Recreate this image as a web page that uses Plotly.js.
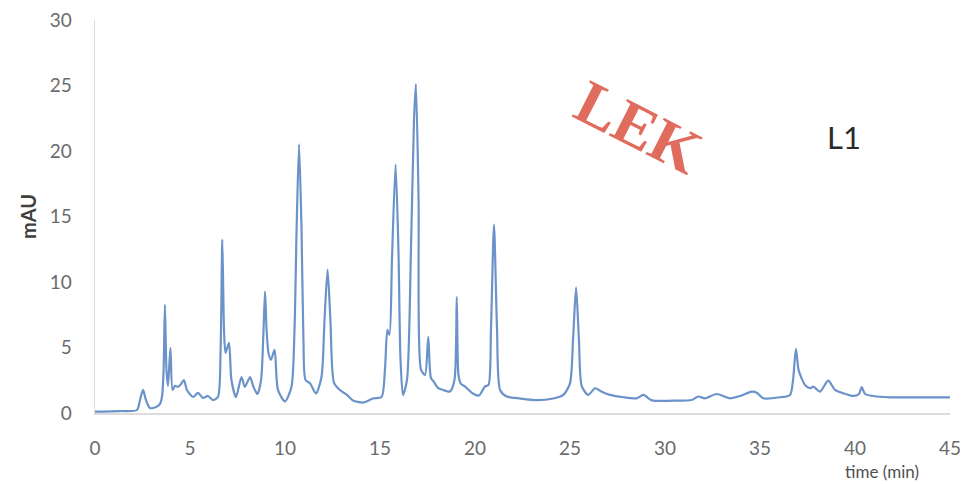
<!DOCTYPE html>
<html>
<head>
<meta charset="utf-8">
<script src="https://cdn.plot.ly/plotly-3.0.1.min.js"></script>
<style>html,body{margin:0;padding:0;background:#fff;}#chart{width:965px;height:484px;}</style>
</head>
<body>
<div id="chart"></div>
<script>
// Chromatogram L1 — retention time (min) vs absorbance (mAU)
const timeMin = [0, 1.32, 2.21, 2.37, 2.53, 2.68, 2.89, 3.21, 3.42, 3.53, 3.61, 3.68, 3.76, 3.84, 3.97, 4.08,
  4.21, 4.37, 4.53, 4.68, 4.84, 5.16, 5.42, 5.68, 5.95, 6.21, 6.47, 6.61, 6.70, 6.79, 6.87, 7.05, 7.18, 7.42,
  7.71, 7.89, 8.16, 8.34, 8.55, 8.74, 8.87, 8.95, 9.03, 9.13, 9.26, 9.45, 9.63, 10.0, 10.34, 10.5, 10.61, 10.74,
  10.87, 10.97, 11.08, 11.32, 11.63, 11.92, 12.08, 12.24, 12.39, 12.58, 12.89, 13.26, 13.58, 14.11, 14.63, 15.08,
  15.26, 15.39, 15.5, 15.63, 15.82, 15.97, 16.08, 16.21, 16.42, 16.63, 16.79, 16.89, 17.03, 17.16, 17.37, 17.54,
  17.68, 17.84, 18.05, 18.32, 18.68, 18.92, 19.04, 19.13, 19.26, 19.47, 19.89, 20.21, 20.53, 20.71, 20.84, 21.0,
  21.16, 21.32, 21.67, 22.37, 23.25, 24.12, 24.65, 25.0, 25.16, 25.32, 25.47, 25.62, 25.96, 26.32, 26.67, 27.11,
  27.81, 28.51, 28.86, 29.32, 30.42, 31.41, 31.75, 32.11, 32.72, 33.42, 33.95, 34.56, 34.83, 35.17, 36.05, 36.58,
  36.74, 36.89, 37.03, 37.19, 37.37, 37.63, 37.81, 38.16, 38.59, 38.95, 39.38, 39.91, 40.21, 40.35, 40.53, 40.96,
  41.84, 43.42, 45.0];
const mAU = [0.11, 0.15, 0.23, 1.0, 1.76, 1.0, 0.38, 0.46, 0.69, 1.3, 3.3, 8.26, 3.3, 2.07, 4.97, 1.76,
  2.07, 1.99, 2.22, 2.52, 1.76, 1.22, 1.53, 1.15, 1.3, 0.99, 1.22, 4.82, 13.24, 6.35, 4.59, 5.36, 2.52, 1.22,
  2.75, 1.99, 2.75, 1.99, 1.45, 2.52, 6.35, 9.26, 6.35, 4.59, 4.06, 4.82, 1.76, 0.88, 1.99, 6.35, 14.0, 20.5,
  14.0, 5.59, 2.52, 2.26, 1.49, 2.75, 7.12, 10.94, 7.12, 2.3, 1.76, 1.38, 0.96, 0.8, 1.11, 1.22,
  3.29, 6.35, 5.97, 11.7, 18.97, 12.47, 4.06, 1.38, 2.52, 12.47, 22.4, 25.1, 16.3, 3.29, 2.91, 5.81,
  2.68, 2.37, 1.91, 1.76, 1.64, 2.52, 8.84, 2.91, 2.22, 2.03, 1.49, 1.34, 2.03, 2.14, 6.35, 14.38,
  6.35, 1.76, 1.26, 1.11, 0.99, 1.11, 1.38, 2.26, 5.59, 9.6, 5.59, 2.03, 1.38, 1.89, 1.63, 1.38,
  1.2, 1.12, 1.38, 0.96, 0.94, 0.99, 1.26, 1.12, 1.45, 1.12, 1.3, 1.63, 1.55, 1.12, 1.2, 1.38,
  2.52, 4.9, 3.29, 2.65, 2.14, 1.89, 2.01, 1.63, 2.47, 1.76, 1.51, 1.3, 1.45, 1.97, 1.45, 1.3,
  1.2, 1.19, 1.19];
const xTicks = [0, 5, 10, 15, 20, 25, 30, 35, 40, 45];
const yTicks = [0, 5, 10, 15, 20, 25, 30];
const sampleLabel = 'L1';
const stampLabel = 'LEK';

const tickFont = {family: 'Lato, "Open Sans", sans-serif', size: 19, color: '#6b6b6b'};

const trace = {
  x: timeMin, y: mAU, type: 'scatter', mode: 'lines',
  line: {color: '#6b93c9', width: 2.2, shape: 'spline', smoothing: 0.7},
  hoverinfo: 'skip', showlegend: false
};

const layout = {
  width: 965, height: 484,
  margin: {l: 95, r: 15, t: 20, b: 71},
  paper_bgcolor: '#ffffff', plot_bgcolor: '#ffffff',
  showlegend: false,
  xaxis: {
    range: [0, 45], tickvals: xTicks, ticktext: xTicks.map(String),
    showgrid: false, zeroline: false, showline: true, linecolor: '#dcdcdc', linewidth: 1.5,
    ticks: 'outside', ticklen: 18, tickcolor: 'rgba(0,0,0,0)',
    tickfont: tickFont, fixedrange: true
  },
  yaxis: {
    range: [0, 30], tickvals: yTicks, ticktext: yTicks.map(String),
    showgrid: false, zeroline: false, showline: true, linecolor: '#dcdcdc', linewidth: 1.5,
    ticks: 'outside', ticklen: 18, tickcolor: 'rgba(0,0,0,0)',
    tickfont: tickFont, fixedrange: true,
    title: {text: 'mAU', font: {family: 'Lato, "Open Sans", sans-serif', size: 20, color: '#404040', weight: 'bold'}, standoff: 7}
  },
  annotations: [
    {text: 'time (min)', xref: 'paper', yref: 'paper', x: 0.92, y: -0.15, showarrow: false,
     xanchor: 'center', yanchor: 'middle', font: {family: 'Lato, "Open Sans", sans-serif', size: 17, color: '#505050'}},
    {text: stampLabel, xref: 'x', yref: 'y', x: 28.6, y: 21.8, showarrow: false, textangle: 27,
     xanchor: 'center', yanchor: 'middle', font: {family: '"Liberation Serif", "DejaVu Serif", serif', size: 62, color: '#e06c5e', weight: 'bold'}},
    {text: sampleLabel, xref: 'x', yref: 'y', x: 39.4, y: 21.1, showarrow: false,
     xanchor: 'center', yanchor: 'middle', font: {family: 'Lato, "Open Sans", sans-serif', size: 31, color: '#2a2a2a'}}
  ]
};

Plotly.newPlot('chart', [trace], layout, {displayModeBar: false, staticPlot: true});
</script>
</body>
</html>
